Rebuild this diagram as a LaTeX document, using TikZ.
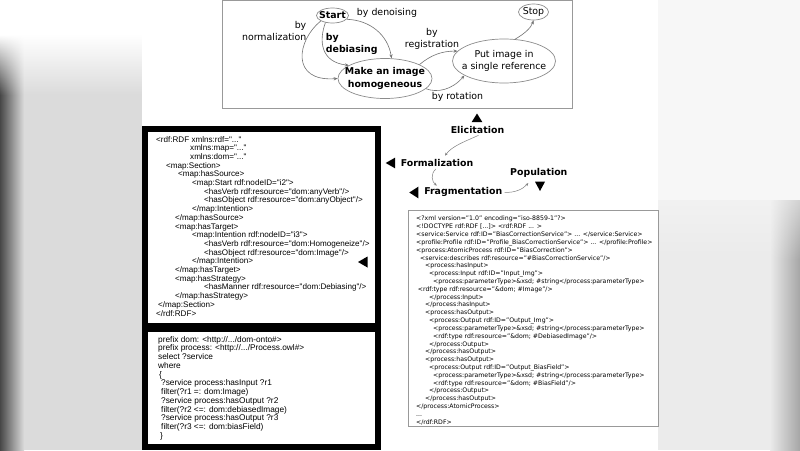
\documentclass[tikz,border=0pt]{standalone}
\usepackage{fontspec}
\setmainfont{DejaVu Sans}
\newfontfamily\codefont{Liberation Sans}
\usetikzlibrary{arrows.meta,shapes.geometric,fadings}
\setlength{\lineskiplimit}{-9pt}
\begin{document}
\begin{tikzpicture}[x=1pt,y=-1pt,
  ell/.style={ellipse, draw=black!45, line width=0.7pt, inner xsep=-12pt, inner ysep=-2pt, align=center},
  lbl/.style={inner sep=0pt, font=\fontsize{9.4}{12}\selectfont},
  arr/.style={draw=black!55, line width=0.6pt, -{Stealth[length=4pt,width=3.2pt]}},
  sarr/.style={draw=black!50, line width=0.5pt, -{Stealth[length=3pt,width=2.6pt]}},
  stage/.style={inner sep=2pt, font=\fontsize{9.4}{11}\selectfont\bfseries},
  thickbox/.style={draw=black, line width=6pt},
  thinbox/.style={draw=black!40, line width=0.8pt},
  codeA/.style={anchor=north west, align=left, inner sep=0pt, font=\codefont\fontsize{8.1}{8.7}\selectfont},
  codeB/.style={anchor=north west, align=left, inner sep=0pt, font=\codefont\fontsize{8.3}{8.73}\selectfont},
  codeC/.style={anchor=north west, align=left, inner sep=0pt, font=\fontsize{6.2}{7.82}\selectfont},
]
\useasboundingbox (0,0) rectangle (800,450);
% background (blurred margins)
\fill[white] (0,0) rectangle (800,450);
\fill[black!14] (0,0) rectangle (142,450);
\shade[left color=black!72, right color=black!14] (0,0) rectangle (24,450);
\fill[white] (0,0) rectangle (142,35);
\fill[white, path fading=south] (0,35) rectangle (142,95);
\fill[black!3] (658,0) rectangle (800,450);
\fill[black!8] (658,200) rectangle (800,450);
\shade[left color=black!8, right color=black!35] (770,200) rectangle (800,450);
\fill[black!3, path fading=south] (658,150) rectangle (800,260);

% ---------- top process map ----------
\draw[thinbox] (222,0.5) rectangle (572,108);
\node[ell, minimum width=32, minimum height=15, font=\fontsize{9.4}{12}\selectfont\bfseries] (start) at (332.5,15.5) {Start};
\node[ell, minimum width=94, minimum height=40, font=\fontsize{9.4}{12.5}\selectfont\bfseries] (make) at (385,78.5) {Make an image\\homogeneous};
\node[ell, minimum width=103, minimum height=44, font=\fontsize{9.4}{12}\selectfont] (put) at (504,61) {Put image in\\a single reference};
\node[ell, minimum width=30, minimum height=16, font=\fontsize{9.4}{12}\selectfont] (stop) at (533.5,12) {Stop};

\node[lbl, align=right, anchor=east] (lnorm) at (306.5,31.3) {by\\normalization};
\node[lbl] (lden) at (387,13.3) {by denoising};
\node[lbl, align=left, anchor=west, font=\fontsize{9.4}{11.7}\selectfont\bfseries] (ldeb) at (325.7,44.2) {by\\debiasing};
\node[lbl, align=center] (lreg) at (432,39.2) {by\\registration};
\node[lbl] (lrot) at (457.5,97) {by rotation};

\draw[arr] (start.-15) .. controls (370,20) and (388,35) .. (make.72);
\draw[arr] (start.225) .. controls (319,40) and (320,62) .. (make.160);
\draw[arr] (start.205) .. controls (297,40) and (290,82) .. (make.180);
\draw[arr] (make.22) .. controls (431,55) and (442,51) .. (put.168);
\draw[arr] (make.-14) .. controls (437,93) and (452,90) .. (put.200);
\draw[arr] (put.63) .. controls (524,34) and (531,28) .. (stop.-90);

% ---------- stages ----------
\node[stage] (elic) at (477.5,129.5) {Elicitation};
\node[stage] (form) at (437,163) {Formalization};
\node[stage] (frag) at (463.3,192.3) {Fragmentation};
\node[stage] (pop) at (538.8,173.3) {Population};
\fill (471.7,122) -- (482.3,122) -- (477,113.5) -- cycle;
\fill (385.7,163) -- (395,157.7) -- (395,168.3) -- cycle;
\fill (409.3,192.5) -- (418.3,186.7) -- (418.3,198.3) -- cycle;
\fill (535,181.7) -- (545,181.7) -- (540,191) -- cycle;
\draw[sarr] (elic.-80) .. controls (466,141) and (452,146) .. ([xshift=8pt,yshift=1.5pt]form.north);
\draw[sarr] ([xshift=-1pt]form.south) .. controls (430,174) and (432,182) .. ([xshift=-26.5pt]frag.north);
\draw[sarr] (frag.east) .. controls (515,193) and (523,189) .. ([xshift=-10.5pt,yshift=-3pt]pop.south);

% ---------- left code boxes ----------
\draw[thickbox] (145,129) rectangle (378,327.5);
\draw[thickbox] (145,327.5) rectangle (378,446.5);
\fill (142,323.3) rectangle (381,331.7);
\fill (358,262) -- (367.5,256.5) -- (367.5,267.5) -- cycle;

\node[codeA] (rdfcode) at (156,136) {%
<rdf:RDF xmlns:rdf="..."\\
\hspace*{34pt}xmlns:map="..."\\
\hspace*{34pt}xmlns:dom="..."\\
\hspace*{10pt}<map:Section>\\
\hspace*{22pt}<map:hasSource>\\
\hspace*{36pt}<map:Start rdf:nodeID="i2">\\
\hspace*{48pt}<hasVerb rdf:resource="dom:anyVerb"/>\\
\hspace*{48pt}<hasObject rdf:resource="dom:anyObject"/>\\
\hspace*{36pt}</map:Intention>\\
\hspace*{19pt}</map:hasSource>\\
\hspace*{19pt}<map:hasTarget>\\
\hspace*{36pt}<map:Intention rdf:nodeID="i3">\\
\hspace*{48pt}<hasVerb rdf:resource="dom:Homogeneize"/>\\
\hspace*{48pt}<hasObject rdf:resource="dom:Image"/>\\
\hspace*{36pt}</map:Intention>\\
\hspace*{19pt}</map:hasTarget>\\
\hspace*{19pt}<map:hasStrategy>\\
\hspace*{48pt}<hasManner rdf:resource="dom:Debiasing"/>\\
\hspace*{19pt}</map:hasStrategy>\\
\hspace*{2pt}</map:Section>\\
</rdf:RDF>};

\node[codeB] (sparql) at (158,336) {%
prefix dom: <http://.../dom-onto\#>\\
prefix process: <http://.../Process.owl\#>\\
select ?service\\
where\\
\hspace*{1pt}\{\\
\hspace*{3pt}?service process:hasInput ?r1\\
\hspace*{3pt}filter(?r1 =: dom:Image)\\
\hspace*{3pt}?service process:hasOutput ?r2\\
\hspace*{3pt}filter(?r2 <=: dom:debiasedImage)\\
\hspace*{3pt}?service process:hasOutput ?r3\\
\hspace*{3pt}filter(?r3 <=: dom:biasField)\\
\hspace*{2pt}\}};

% ---------- right OWL-S box ----------
\draw[thinbox] (408,210.7) rectangle (658,426);
\node[codeC] (owls) at (416,216) {%
<?xml version="1.0" encoding="iso-8859-1"?>\\
<!DOCTYPE rdf:RDF [...]> <rdf:RDF ... >\\
<service:Service rdf:ID="BiasCorrectionService"> ... </service:Service>\\
<profile:Profile rdf:ID="Profile\_BiasCorrectionService"> ... </profile:Profile>\\
<process:AtomicProcess rdf:ID="BiasCorrection">\\
\hspace*{4pt}<service:describes rdf:resource="\#BiasCorrectionService"/>\\
\hspace*{9pt}<process:hasInput>\\
\hspace*{13pt}<process:Input rdf:ID="Input\_Img">\\
\hspace*{17pt}<process:parameterType>\&xsd; \#string</process:parameterType>\\
\hspace*{1.7pt}<rdf:type rdf:resource="\&dom; \#Image"/>\\
\hspace*{13pt}</process:Input>\\
\hspace*{9pt}</process:hasInput>\\
\hspace*{9pt}<process:hasOutput>\\
\hspace*{13pt}<process:Output rdf:ID="Output\_Img">\\
\hspace*{17pt}<process:parameterType>\&xsd; \#string</process:parameterType>\\
\hspace*{17pt}<rdf:type rdf:resource="\&dom; \#DebiasedImage"/>\\
\hspace*{13pt}</process:Output>\\
\hspace*{9pt}</process:hasOutput>\\
\hspace*{9pt}<process:hasOutput>\\
\hspace*{13pt}<process:Output rdf:ID="Output\_BiasField">\\
\hspace*{17pt}<process:parameterType>\&xsd; \#string</process:parameterType>\\
\hspace*{17pt}<rdf:type rdf:resource="\&dom; \#BiasField"/>\\
\hspace*{13pt}</process:Output>\\
\hspace*{9pt}</process:hasOutput>\\
</process:AtomicProcess>\\
...\\
</rdf:RDF>};
\end{tikzpicture}
\end{document}
